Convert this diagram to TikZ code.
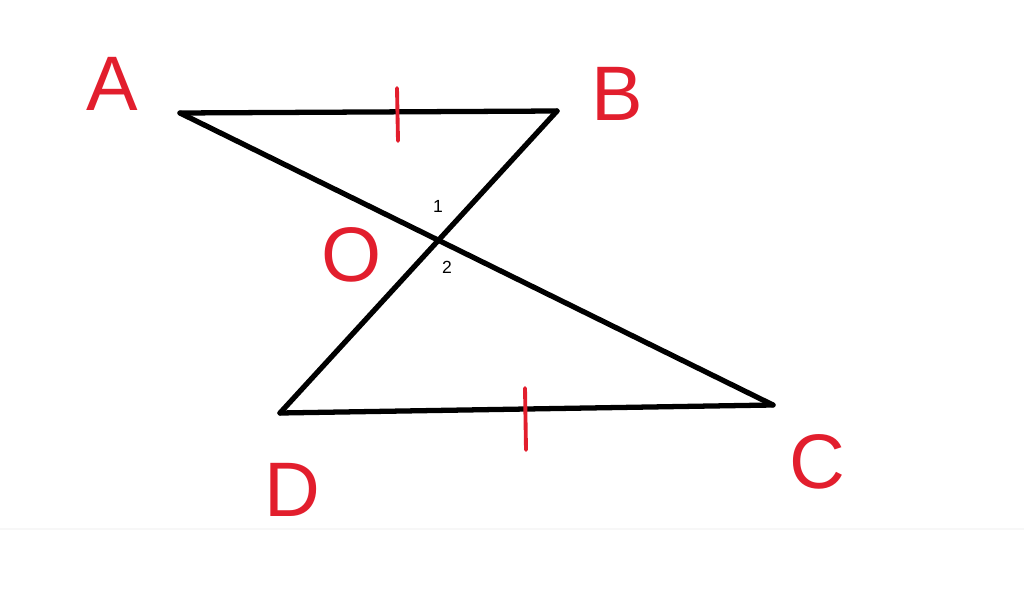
\documentclass[tikz,border=0pt]{standalone}
\usepackage{fontspec}
\setmainfont{Liberation Sans}
\definecolor{pen}{RGB}{226,30,45}
\tikzset{
  side/.style={line width=3pt, black, line cap=round, line join=round},
  tick/.style={line width=2.2pt, pen, line cap=round},
  letter/.style={text=pen, font=\fontsize{44}{44}\selectfont},
  angle/.style={font=\fontsize{10}{10}\selectfont}
}
\begin{document}
\begin{tikzpicture}[x=0.02cm, y=-0.02cm]
      \useasboundingbox (0,0) rectangle (1024,601);
      \draw
        (180,113) coordinate (A)
        (557,111) coordinate (B)
        (773,405) coordinate (C)
        (280,413) coordinate (D)
        (437,240) coordinate (O);
      \draw
        (112,84) node[letter] (lA){A}
        (617,94) node[letter] (lB){B}
        (352,255) node[letter] (lO){O}
        (292,490) node[letter] (lD){D}
        (817,462) node[letter] (lC){C}
        (438,206) node[angle] (n1){1}
        (447,267) node[angle] (n2){2};
      \begin{scope}[side]
        \draw (A) to (B);
        \draw (B) to (D);
        \draw (A) to (C);
        \draw (D) to (C);
      \end{scope}
      \draw (397,88) coordinate (t1a) (398,141) coordinate (t1b)
            (525,388) coordinate (t2a) (526,450) coordinate (t2b);
      \draw[tick] (t1a) to (t1b);
      \draw[tick] (t2a) to (t2b);
      \draw (0,529) coordinate (s1) (1024,529) coordinate (s2);
      \draw[black!3, line width=1pt] (s1) to (s2);
    \end{tikzpicture}
\end{document}
